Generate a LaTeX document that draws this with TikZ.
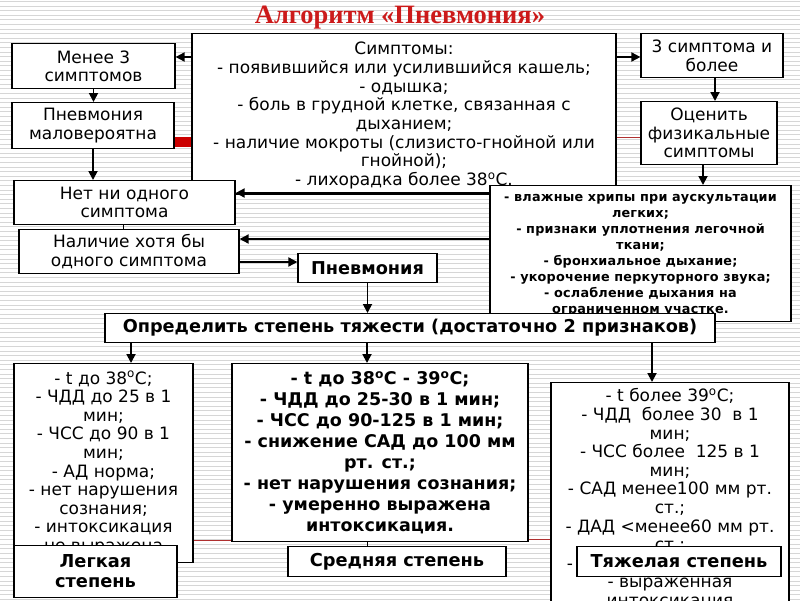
\documentclass[tikz,border=0pt]{standalone}
\usepackage{fontspec}
\setmainfont{DejaVu Sans}
\newfontfamily\titlefont{Liberation Serif}
\newfontfamily\spacedfont[LetterSpace=1.5]{DejaVu Sans}
\usepackage{xcolor}
\usetikzlibrary{arrows.meta,positioning}
\definecolor{titlered}{HTML}{CC1A1A}
\definecolor{barred}{HTML}{CC0000}
\definecolor{thinred}{HTML}{B03030}
\definecolor{stripegray}{HTML}{D6D6D6}
\newcommand{\degr}{\textsuperscript{o}}

\begin{document}
\begin{tikzpicture}[x=1pt,y=-1pt,
  box/.style={draw,fill=white,line width=1.2pt,align=center,anchor=north,inner sep=3pt},
  plain/.style={font=\fontsize{17}{18.5}\selectfont},
  heavy/.style={font=\bfseries\fontsize{17.7}{19}\selectfont},
  grade/.style={font=\bfseries\fontsize{17.8}{20}\selectfont},
  arr/.style={line width=1.8pt,-{Triangle[length=9pt,width=9pt]}},
  tick/.style={line width=1pt},
  redbar/.style={draw=barred,line width=10pt},
  redthin/.style={draw=thinred,line width=0.8pt}]
  \useasboundingbox (0,0) rectangle (800,600);
  \clip (0,0) rectangle (800,600);
  % background stripes
  \fill[white] (0,0) rectangle (800,600);
  \foreach \y in {1.5,6.1,...,600}
    \draw[stripegray,line width=0.9pt] (0,\y) -- (800,\y);

  \node[text=titlered,font=\titlefont\bfseries\fontsize{26.5}{28}\selectfont] (title) at (400,17.5) {Алгоритм «Пневмония»};

  % top row
  \node[box,font=\fontsize{17}{18.7}\selectfont,minimum width=424,minimum height=157,inner sep=5pt] (symp) at (404,33)
    {\rule{0pt}{16pt}Симптомы:\\
     - появившийся или усилившийся кашель;\\
     - одышка;\\
     - боль в грудной клетке, связанная с\\
     дыханием;\\
     - наличие мокроты (слизисто-гнойной или\\
     гнойной);\\
     - лихорадка более 38\degr С.};
  \node[box,plain,minimum width=163,minimum height=45] (less) at (93.5,43) {Менее 3\\симптомов};
  \node[box,plain,minimum width=162,minimum height=46] (unlikely) at (93,102) {Пневмония\\маловероятна};
  \node[box,plain,minimum width=142,minimum height=44] (three) at (712,33) {3 симптома и\\более};
  \node[box,plain,minimum width=136,minimum height=63] (assess) at (709,101) {Оценить\\физикальные\\симптомы};

  % red links
  \draw[redbar] (unlikely.east |- 0,142) -- (symp.west |- 0,142);
  \draw[redthin] (symp.east |- 0,137) -- (assess.west |- 0,137);

  \node[box,minimum width=301,minimum height=136,font=\spacedfont\bfseries\fontsize{12.8}{16}\selectfont] (signs) at (640.5,185)
    {\rule{0pt}{11.5pt}- влажные хрипы при аускультации\\
     легких;\\
     - признаки уплотнения легочной\\
     ткани;\\
     - бронхиальное дыхание;\\
     - укорочение перкуторного звука;\\
     - ослабление дыхания на\\
     ограниченном участке.};
  \node[box,plain,minimum width=221,minimum height=44] (none) at (124.5,180) {Нет ни одного\\симптома};
  \node[box,plain,minimum width=220,minimum height=44] (atleast) at (129,229) {Наличие хотя бы\\одного симптома};
  \node[box,heavy,minimum width=139,minimum height=29] (pneu) at (367.5,253) {Пневмония};
  \node[box,heavy,minimum width=610,minimum height=29] (sev) at (410,313) {Определить степень тяжести (достаточно 2 признаков)};

  % connectors
  \draw[arr] (symp.west |- 0,57) -- (less.east |- 0,57);
  \draw[arr] (symp.east |- 0,57) -- (three.west |- 0,57);
  \draw[arr] (less.south) -- (less.south |- unlikely.north);
  \draw[arr] (unlikely.south) -- (unlikely.south |- none.north);
  \draw[arr] ([xshift=3pt]three.south) -- ([xshift=3pt]three.south |- assess.north);
  \draw[arr] ([xshift=-6pt]assess.south) -- ([xshift=-6pt]assess.south |- signs.north);
  \draw[arr] (signs.west |- 0,193) -- (none.east |- 0,193);
  \draw[arr] (signs.west |- 0,239) -- (atleast.east |- 0,239);
  \draw[arr] (atleast.east |- 0,262) -- (pneu.west |- 0,262);
  \draw[tick] ([xshift=-1pt]none.south) -- ([xshift=-1pt]none.south |- atleast.north);
  \draw[arr] (pneu.south) -- (pneu.south |- sev.north);

  % criteria
  \node[box,font=\fontsize{17}{18.6}\selectfont,minimum width=179,minimum height=199] (mildc) at (103.5,363)
    {- t до 38\degr С;\\
     - ЧДД до 25 в 1\\
     мин;\\
     - ЧСС до 90 в 1\\
     мин;\\
     - АД норма;\\
     - нет нарушения\\
     сознания;\\
     - интоксикация\\
     не выражена};
  \node[box,font=\bfseries\fontsize{17.5}{21}\selectfont,minimum width=296,minimum height=178] (modc) at (380,363)
    {- t до 38\degr С - 39\degr С;\\
     - ЧДД до 25-30 в 1 мин;\\
     - ЧСС до 90-125 в 1 мин;\\
     - снижение САД до 100 мм\\
     рт. ст.;\\
     - нет нарушения сознания;\\
     - умеренно выражена\\
     интоксикация.};
  \node[box,font=\fontsize{17}{18.6}\selectfont,minimum width=238,inner ysep=6pt] (sevc) at (670,382)
    {- t более 39\degr С;\\
     - ЧДД\ \ более 30\ \ в 1\\
     мин;\\
     - ЧСС более\ \ 125 в 1\\
     мин;\\
     - САД менее100 мм рт.\\
     ст.;\\
     - ДАД <менее60 мм рт.\\
     ст.;\\
     - нарушение сознания;\\
     - выраженная\\
     интоксикация};

  \path (mildc.north |- sev.south) ++(27.5,0) coordinate (m1);
  \draw[arr] (m1) -- (m1 |- mildc.north);
  \path (modc.north |- sev.south) ++(-13,0) coordinate (m2);
  \draw[arr] (m2) -- (m2 |- modc.north);
  \path (sevc.north |- sev.south) ++(-18,0) coordinate (m3);
  \draw[arr] (m3) -- (m3 |- sevc.north);

  \draw[redthin] (mildc.east |- 0,540) -- (modc.west |- 0,540);
  \draw[redthin] (modc.east |- 0,539) -- (sevc.west |- 0,539);

  % grades
  \node[box,grade,minimum width=163,minimum height=52] (mild) at (95.5,545) {Легкая\\степень};
  \node[box,grade,minimum width=218,minimum height=30] (mod) at (397,546) {Средняя степень};
  \node[box,grade,minimum width=204,minimum height=30] (sevr) at (679,546) {Тяжелая степень};
  \draw[tick] (modc.south -| 367,0) -- (mod.north -| 367,0);
\end{tikzpicture}
\end{document}
